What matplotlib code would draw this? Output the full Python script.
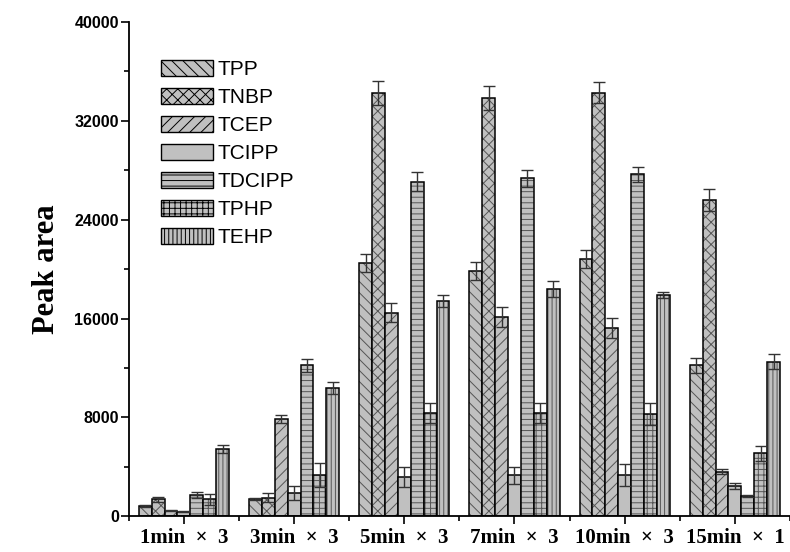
import numpy as np
import matplotlib.pyplot as plt

plt.rcParams['hatch.linewidth'] = 0.7

# data
groups = ['1min  ×  3', '3min  ×  3', '5min  ×  3', '7min  ×  3', '10min  ×  3', '15min  ×  1']
names = ['TPP', 'TNBP', 'TCEP', 'TCIPP', 'TDCIPP', 'TPHP', 'TEHP']
hatches = ['\\\\\\', 'xxx', '///', '', '---', '+++', '||||']
yticks = [0, 8000, 16000, 24000, 32000, 40000]

TPP    = [800, 1380, 20460, 19840, 20780, 12200]
TNBP   = [1350, 1480, 34230, 33820, 34280, 25560]
TCEP   = [450, 7850, 16460, 16090, 15220, 3590]
TCIPP  = [350, 1890, 3180, 3290, 3290, 2430]
TDCIPP = [1680, 12200, 27070, 27340, 27670, 1620]
TPHP   = [1350, 3320, 8370, 8320, 8260, 5080]
TEHP   = [5400, 10350, 17410, 18400, 17920, 12500]

TPP_err    = [60, 80, 730, 700, 730, 600]
TNBP_err   = [220, 360, 970, 970, 840, 890]
TCEP_err   = [40, 320, 760, 810, 790, 190]
TCIPP_err  = [30, 560, 810, 650, 890, 270]
TDCIPP_err = [240, 500, 760, 700, 620, 80]
TPHP_err   = [450, 1000, 810, 810, 860, 590]
TEHP_err   = [320, 500, 460, 650, 240, 600]

values = [TPP, TNBP, TCEP, TCIPP, TDCIPP, TPHP, TEHP]
errors = [TPP_err, TNBP_err, TCEP_err, TCIPP_err, TDCIPP_err, TPHP_err, TEHP_err]

fig = plt.figure(figsize=(7.9, 5.52), dpi=100)
ax = fig.add_axes([0.163, 0.065, 0.837, 0.895])

x = np.arange(len(groups))
w = 0.117
for i in range(len(names)):
    pos = x + (i - 3) * w
    # hatch drawn in grey, outline in black on top
    ax.bar(pos, values[i], w, color='#c0c0c0', edgecolor='#555555',
           linewidth=0, hatch=hatches[i], label=names[i])
    ax.bar(pos, values[i], w, color='none', edgecolor='black', linewidth=1.1)
    ax.errorbar(pos, values[i], yerr=errors[i], fmt='none', ecolor='#333333',
                elinewidth=1, capsize=4, capthick=1)

ax.set_xlim(-0.5, 5.455)
ax.set_ylim(0, 40000)
ax.set_yticks(yticks, [str(t) for t in yticks], family='Liberation Sans',
              fontweight='bold', fontsize=11.5)
ax.set_yticks(np.arange(4000, 40000, 8000), minor=True)
ax.set_xticks(x, groups, family='Liberation Serif', fontweight='bold', fontsize=15)
ax.set_xticks(np.arange(-0.5, 6, 1), minor=True)
ax.tick_params(axis='both', which='major', length=5.5, width=1.2, direction='out')
ax.tick_params(axis='both', which='minor', length=3.5, width=1.2, direction='out')
ax.tick_params(axis='x', pad=3)
ax.tick_params(axis='y', pad=1.5)

ax.spines['top'].set_visible(False)
ax.spines['right'].set_visible(False)
ax.spines['left'].set_linewidth(1.3)
ax.spines['bottom'].set_linewidth(1.3)

ax.set_ylabel('Peak area', family='Liberation Serif', fontweight='bold',
              fontsize=22, labelpad=10)

leg = ax.legend(loc='upper left', bbox_to_anchor=(0.021, 0.962), frameon=False,
                prop={'family': 'Liberation Sans', 'size': 15},
                handlelength=2.5, handleheight=0.82, labelspacing=0.42, handletextpad=0.2)
for h in leg.legend_handles:
    h.set_edgecolor('black')
    h.set_linewidth(1.0)

plt.savefig('out.png', dpi=100)
